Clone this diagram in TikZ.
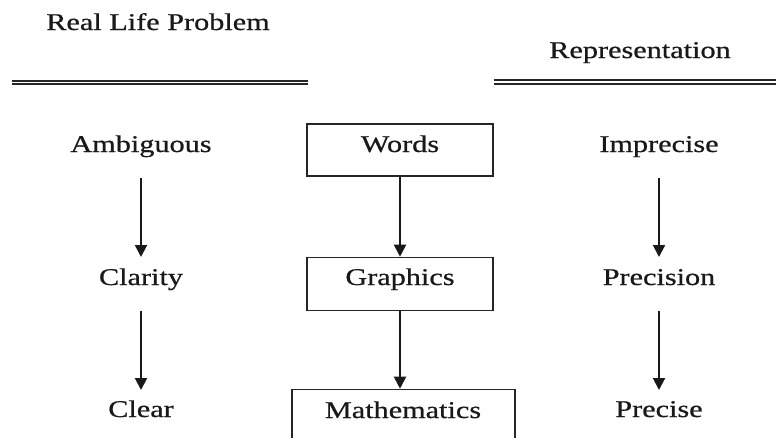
\documentclass[tikz,border=0pt]{standalone}
\usepackage{fontspec}
\usepackage{graphicx}
\setmainfont{Liberation Serif}[FakeBold=0.6]
\usetikzlibrary{arrows.meta}
\newcommand{\wtxt}[1]{\scalebox{1.26}[1]{#1}}
\tikzset{
  lbl/.style={anchor=base, inner sep=0pt, text=black!90, font=\fontsize{24}{28}\selectfont},
  boxnode/.style={draw=black!85, line width=1.6pt, inner sep=0pt},
  arr/.style={draw=black!90, line width=2pt, -{Triangle[width=12pt,length=12pt]}},
  dbl/.style={draw=black!85, line width=1.9pt}
}
\begin{document}
\begin{tikzpicture}[x=1pt,y=-1pt]
\useasboundingbox (0,0) rectangle (776,437);
\clip (0,0) rectangle (776,437);
% headers
\node[lbl] (rlp) at (158,30) {\wtxt{Real Life Problem}};
\node[lbl] (rep) at (640,58) {\wtxt{Representation}};
\coordinate (l1a) at (12,80.8); \coordinate (l1b) at (308,80.8);
\coordinate (l2a) at (12,84.3); \coordinate (l2b) at (308,84.3);
\coordinate (r1a) at (494,80.3); \coordinate (r1b) at (776,80.3);
\coordinate (r2a) at (494,83.8); \coordinate (r2b) at (776,83.8);
\draw[dbl] (l1a) -- (l1b);
\draw[dbl] (l2a) -- (l2b);
\draw[dbl] (r1a) -- (r1b);
\draw[dbl] (r2a) -- (r2b);
% boxes
\node[boxnode, minimum width=186pt, minimum height=52pt] (wordsbox) at (400,150) {};
\node[boxnode, minimum width=186pt, minimum height=53pt] (graphbox) at (400,284) {};
\node[boxnode, minimum width=223pt, minimum height=80pt] (mathbox) at (403.5,429.5) {};
% labels
\node[lbl] (amb) at (141,152) {\wtxt{Ambiguous}};
\node[lbl] (words) at (400,152) {\wtxt{Words}};
\node[lbl] (impr) at (659,152) {\wtxt{Imprecise}};
\node[lbl] (clar) at (141,285) {\wtxt{Clarity}};
\node[lbl] (graph) at (400,285) {\wtxt{Graphics}};
\node[lbl] (prec) at (659,285) {\wtxt{Precision}};
\node[lbl] (clear) at (141,417) {\wtxt{Clear}};
\node[lbl] (math) at (403,418) {\wtxt{Mathematics}};
\node[lbl] (precise) at (659,417) {\wtxt{Precise}};
% arrow end points
\coordinate (a1s) at (141,178); \coordinate (a1e) at (141,257);
\coordinate (a2s) at (141,311); \coordinate (a2e) at (141,390);
\coordinate (c1s) at (659,178); \coordinate (c1e) at (659,257);
\coordinate (c2s) at (659,311); \coordinate (c2e) at (659,390);
% arrows
\draw[arr] (a1s) -- (a1e);
\draw[arr] (wordsbox.south) -- (graphbox.north);
\draw[arr] (c1s) -- (c1e);
\draw[arr] (a2s) -- (a2e);
\draw[arr] (graphbox.south) -- (graphbox.south |- mathbox.north);
\draw[arr] (c2s) -- (c2e);
\end{tikzpicture}
\end{document}
